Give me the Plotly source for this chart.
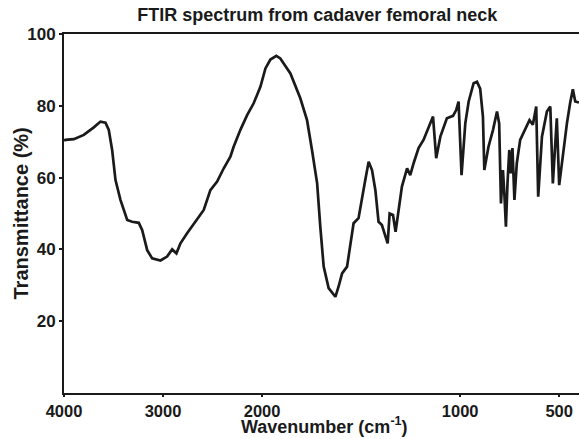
import plotly.graph_objects as go

# Wavenumber (cm^-1) and transmittance (%)
wavenumber = [4000, 3985, 3901, 3800, 3699, 3632, 3581, 3548, 3514, 3480, 3430, 3362, 3312,
              3245, 3211, 3160, 3110, 3026, 2959, 2908, 2865, 2824, 2757, 2673, 2589, 2522,
              2454, 2387, 2320, 2287, 2219, 2151, 2085, 2017, 1983, 1958, 1928, 1908, 1857,
              1807, 1773, 1748, 1722, 1706, 1689, 1664, 1630, 1614, 1596, 1571, 1554, 1538,
              1513, 1495, 1479, 1462, 1445, 1428, 1412, 1395, 1378, 1366, 1356, 1339, 1326,
              1311, 1294, 1268, 1252, 1235, 1210, 1185, 1159, 1137, 1121, 1100, 1067, 1036,
              1020, 1008, 993, 974, 957, 932, 915, 899, 885, 878, 857, 834, 814, 803, 794,
              784, 776, 769, 761, 752, 744, 736, 726, 714, 697, 672, 650, 633, 616, 606,
              587, 562, 545, 532, 520, 512, 500, 478, 461, 445, 431, 419, 400]
transmittance = [70.3, 70.5, 70.7, 71.9, 74.0, 75.6, 75.3, 73.3, 67.7, 59.3, 53.8, 48.2, 47.7,
                 47.4, 45.4, 39.8, 37.5, 36.9, 38.0, 40.0, 38.9, 41.7, 44.5, 47.7, 51.0, 56.5,
                 58.9, 62.6, 65.8, 68.6, 73.3, 77.4, 80.7, 85.3, 90.4, 92.9, 93.9, 93.2, 89.0,
                 82.1, 76.0, 67.7, 58.4, 46.3, 35.2, 29.2, 26.8, 29.6, 33.3, 35.2, 40.8, 47.3,
                 48.7, 53.8, 59.3, 64.4, 62.1, 56.5, 47.7, 46.8, 43.5, 41.7, 50.0, 49.6, 44.9,
                 51.0, 57.5, 62.6, 60.7, 64.0, 68.2, 70.5, 74.2, 77.0, 65.4, 71.4, 76.5, 77.2,
                 78.8, 81.2, 60.7, 75.1, 81.2, 86.3, 86.7, 84.8, 77.0, 62.1, 68.6, 73.3, 78.4,
                 75.1, 52.8, 62.1, 54.7, 46.3, 58.4, 67.7, 61.2, 68.2, 53.8, 64.0, 70.5, 73.7,
                 76.0, 74.7, 79.8, 54.7, 71.4, 78.4, 79.8, 58.4, 70.5, 76.5, 57.9, 67.7, 75.1,
                 80.7, 84.6, 81.2, 80.9]

x_tick_labels = [4000, 3000, 2000, 1000, 500]
y_tick_labels = [20, 40, 60, 80, 100]


def axis_pos(w):
    """FTIR axis with doubled scale below 2000 cm^-1 (reversed)."""
    if w >= 2000:
        return 4000 - w
    return 2000 + 2 * (2000 - w)


xs = [axis_pos(w) for w in wavenumber]

font_family = "Liberation Sans, Arial, sans-serif"
ink = "#1a1a1a"

fig = go.Figure()
fig.add_trace(go.Scatter(
    x=xs, y=transmittance, mode="lines",
    line=dict(color=ink, width=2.7, shape="linear"),
    hoverinfo="skip", showlegend=False,
))

fig.update_layout(
    width=579, height=439,
    margin=dict(l=64, r=0, t=34, b=46, autoexpand=False),
    paper_bgcolor="white", plot_bgcolor="white",
    font=dict(family=font_family, color=ink),
    title=dict(
        text="<b>FTIR spectrum from cadaver femoral neck</b>",
        x=0.548, xanchor="center", y=0.966, yanchor="middle",
        font=dict(size=18, family=font_family, color=ink),
    ),
    xaxis=dict(
        range=[0, axis_pos(400)],
        tickvals=[axis_pos(v) for v in x_tick_labels],
        ticktext=["<b>%d</b>" % v for v in x_tick_labels],
        tickfont=dict(size=16.5),
        showgrid=False, zeroline=False, automargin=False,
        showline=True, linecolor=ink, linewidth=2, mirror=True,
        ticks="outside", ticklen=2, tickwidth=1.5, tickcolor=ink,
    ),
    yaxis=dict(
        range=[0, 100],
        tickvals=y_tick_labels,
        ticktext=["<b>%d</b>" % v for v in y_tick_labels],
        tickfont=dict(size=17),
        showgrid=False, zeroline=False, automargin=False,
        showline=True, linecolor=ink, linewidth=2,
        ticks="outside", ticklen=3, tickwidth=1.5, tickcolor=ink,
    ),
    annotations=[
        dict(text="<b>Wavenumber (cm<sup>-1</sup>)</b>", xref="paper", yref="paper",
             x=0.505, y=0, xanchor="center", yanchor="bottom", yshift=-46,
             showarrow=False, font=dict(size=18, family=font_family, color=ink)),
        dict(text="<b>Transmittance (%)</b>", xref="paper", yref="paper",
             x=0, y=0.5, xanchor="center", yanchor="middle", xshift=-44,
             textangle=-90, showarrow=False,
             font=dict(size=20, family=font_family, color=ink)),
    ],
)

fig.write_html(
    "out.html",
    config={"displayModeBar": False},
    post_script="document.body.style.margin='0';document.body.style.overflow='hidden';",
)
